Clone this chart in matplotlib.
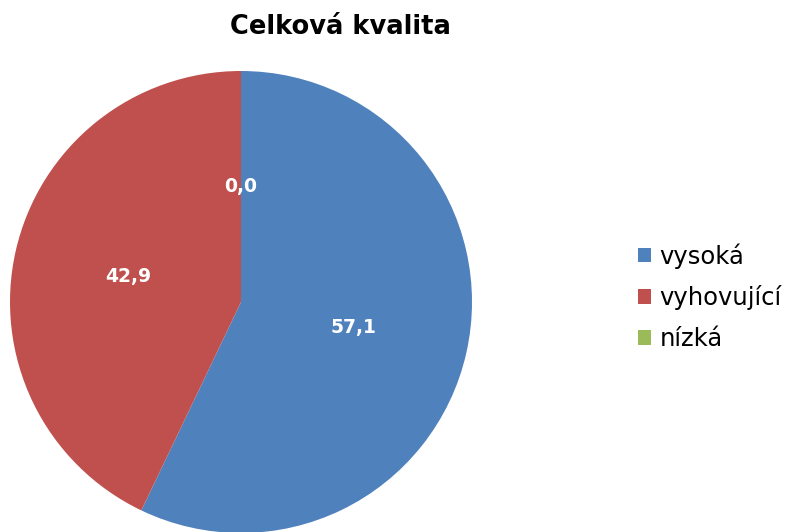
import matplotlib
matplotlib.use("Agg")
import matplotlib.pyplot as plt
from matplotlib.patches import Patch

# data
categories = ["vysoká", "vyhovující", "nízká"]
values = [57.1, 42.9, 0.0]
colors = ["#4F81BD", "#C0504D", "#9BBB59"]
title = "Celková kvalita"

W, H = 801, 532
fig = plt.figure(figsize=(W / 100, H / 100), dpi=100)

# pie centre ~ (241, 302) px, radius ~ 231 px
cx, cy, r = 241, 302, 231
ax = fig.add_axes([(cx - r) / W, (H - cy - r) / H, 2 * r / W, 2 * r / H])

wedges, texts, autotexts = ax.pie(
    values, colors=colors, startangle=90, counterclock=False,
    autopct=lambda p: f"{p:.1f}".replace(".", ","), pctdistance=0.5,
    wedgeprops=dict(linewidth=0),
)
for t in autotexts:
    t.set_color("white")
    t.set_fontweight("bold")
    t.set_fontsize(13.5)
ax.set_xlim(-1, 1)
ax.set_ylim(-1, 1)
ax.set_aspect("equal")
ax.axis("off")

fig.text(340 / W, 1 - 27 / H, title, ha="center", va="center",
         fontsize=18.5, fontweight="bold")

handles = [Patch(facecolor=c, edgecolor="none") for c in colors]
fig.legend(handles, categories, loc="center left",
           bbox_to_anchor=(616 / W, 1 - 297 / H), frameon=False,
           fontsize=17.5, handlelength=0.55, handleheight=0.55,
           handletextpad=0.35, labelspacing=0.68)

fig.savefig("out.png", dpi=100)
